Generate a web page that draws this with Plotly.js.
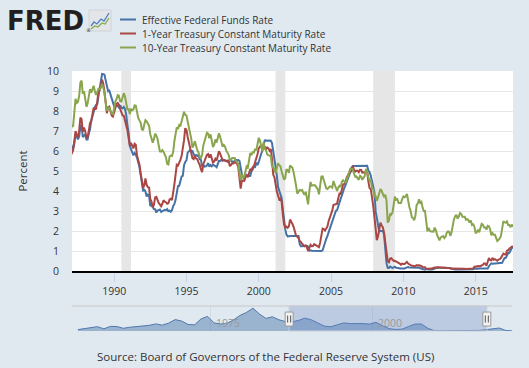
<!DOCTYPE html>
<html><head><meta charset="utf-8">
<script src="https://cdn.plot.ly/plotly-3.0.1.min.js"></script>
<style>html,body{margin:0;padding:0;background:#e1e9f0;}#chart{width:529px;height:368px;}</style>
</head><body><div id="chart"></div>
<script>
// ---------- DATA ----------
const seriesNames = ["Effective Federal Funds Rate", "1-Year Treasury Constant Maturity Rate", "10-Year Treasury Constant Maturity Rate"];
const seriesColors = ["#4572a7", "#aa4643", "#89a54e"];
const firstYear = 1987; // monthly values, Jan 1987 onward
const fedFunds = [
6.43,6.10,6.13,6.37,6.85,6.73,6.58,6.73,7.22,7.29,6.69,6.77,
6.83,6.58,6.58,6.87,7.09,7.51,7.75,8.01,8.19,8.30,8.35,8.76,
9.12,9.36,9.85,9.84,9.81,9.53,9.24,8.99,9.02,8.84,8.55,8.45,
8.23,8.24,8.28,8.26,8.18,8.29,8.15,8.13,8.20,8.11,7.81,7.31,
6.91,6.25,6.12,5.91,5.78,5.90,5.82,5.66,5.45,5.21,4.81,4.43,
4.03,4.06,3.98,3.73,3.82,3.76,3.25,3.30,3.22,3.10,3.09,2.92,
3.02,3.03,3.07,2.96,3.00,3.04,3.06,3.03,3.09,2.99,3.02,2.96,
3.05,3.25,3.34,3.56,4.01,4.25,4.26,4.47,4.73,4.76,5.29,5.45,
5.53,5.92,5.98,6.05,6.01,6.00,5.85,5.74,5.80,5.76,5.80,5.60,
5.56,5.22,5.31,5.22,5.24,5.27,5.40,5.22,5.30,5.24,5.31,5.29,
5.25,5.19,5.39,5.51,5.50,5.56,5.52,5.54,5.54,5.50,5.52,5.50,
5.56,5.51,5.49,5.45,5.49,5.56,5.54,5.55,5.51,5.07,4.83,4.68,
4.63,4.76,4.81,4.74,4.74,4.76,4.99,5.07,5.22,5.20,5.42,5.30,
5.45,5.73,5.85,6.02,6.27,6.53,6.54,6.50,6.52,6.51,6.51,6.40,
5.98,5.49,5.31,4.80,4.21,3.97,3.77,3.65,3.07,2.49,2.09,1.82,
1.73,1.74,1.73,1.75,1.75,1.75,1.73,1.74,1.75,1.75,1.34,1.24,
1.24,1.26,1.25,1.26,1.26,1.22,1.01,1.03,1.01,1.01,1.00,0.98,
1.00,1.01,1.00,1.00,1.00,1.03,1.26,1.43,1.61,1.76,1.93,2.16,
2.28,2.50,2.63,2.79,3.00,3.04,3.26,3.50,3.62,3.78,4.00,4.16,
4.29,4.49,4.59,4.79,4.94,4.99,5.24,5.25,5.25,5.25,5.25,5.24,
5.25,5.26,5.26,5.25,5.25,5.25,5.26,5.02,4.94,4.76,4.49,4.24,
3.94,2.98,2.61,2.28,1.98,2.00,2.01,2.00,1.81,0.97,0.39,0.16,
0.15,0.22,0.18,0.15,0.18,0.21,0.16,0.16,0.15,0.12,0.12,0.12,
0.11,0.13,0.16,0.20,0.20,0.18,0.18,0.19,0.19,0.19,0.19,0.18,
0.17,0.16,0.14,0.10,0.09,0.09,0.07,0.10,0.08,0.07,0.08,0.07,
0.08,0.10,0.13,0.14,0.16,0.16,0.16,0.13,0.14,0.16,0.16,0.16,
0.14,0.15,0.14,0.15,0.11,0.09,0.09,0.08,0.08,0.09,0.08,0.09,
0.07,0.07,0.08,0.09,0.09,0.10,0.09,0.09,0.09,0.09,0.09,0.12,
0.11,0.11,0.11,0.12,0.12,0.13,0.13,0.14,0.14,0.12,0.12,0.24,
0.34,0.38,0.36,0.37,0.37,0.38,0.39,0.40,0.40,0.40,0.41,0.54,
0.65,0.66,0.79,0.90,0.91,1.04,1.15,1.16];
const oneYear = [
5.78,5.96,6.03,6.50,7.00,6.80,6.68,7.03,7.67,7.59,6.96,7.17,
6.99,6.64,6.71,7.01,7.40,7.49,7.75,8.17,8.09,8.11,8.48,8.99,
9.05,9.25,9.57,9.36,8.98,8.44,7.89,8.18,8.22,7.99,7.77,7.72,
7.92,8.11,8.35,8.40,8.32,8.10,7.94,7.78,7.76,7.55,7.31,7.05,
6.64,6.27,6.40,6.24,6.13,6.36,6.31,5.78,5.57,5.33,4.89,4.38,
4.15,4.29,4.63,4.30,4.19,4.17,3.60,3.47,3.18,3.30,3.68,3.71,
3.50,3.39,3.33,3.24,3.36,3.54,3.47,3.44,3.36,3.39,3.58,3.61,
3.54,3.87,4.32,4.82,5.31,5.27,5.48,5.56,5.76,6.11,6.54,7.14,
7.05,6.70,6.43,6.27,6.00,5.64,5.59,5.75,5.62,5.59,5.43,5.31,
5.09,4.94,5.34,5.54,5.64,5.81,5.85,5.67,5.83,5.55,5.42,5.47,
5.61,5.53,5.80,5.99,5.87,5.69,5.54,5.56,5.52,5.46,5.46,5.53,
5.24,5.31,5.39,5.38,5.44,5.41,5.36,5.21,4.71,4.12,4.53,4.52,
4.51,4.70,4.78,4.69,4.85,5.10,5.03,5.20,5.25,5.43,5.55,5.84,
6.12,6.22,6.22,6.15,6.33,6.17,6.08,6.18,6.13,6.01,6.09,5.60,
4.81,4.68,4.30,3.98,3.78,3.58,3.62,3.47,2.82,2.33,2.18,2.22,
2.16,2.23,2.57,2.48,2.35,2.20,1.96,1.76,1.72,1.65,1.49,1.45,
1.36,1.30,1.24,1.27,1.18,1.01,1.12,1.31,1.24,1.25,1.34,1.31,
1.24,1.24,1.19,1.43,1.78,2.12,2.10,2.02,2.12,2.23,2.50,2.67,
2.86,3.03,3.30,3.32,3.33,3.36,3.64,3.87,3.85,4.18,4.33,4.35,
4.45,4.68,4.77,4.90,5.00,5.16,5.22,5.08,4.97,5.01,5.01,4.94,
5.06,5.05,4.92,4.93,4.91,4.96,4.96,4.47,4.14,4.10,3.50,3.26,
2.71,2.05,1.54,1.74,2.06,2.42,2.28,2.18,1.91,1.42,1.07,0.49,
0.44,0.62,0.64,0.55,0.50,0.51,0.48,0.46,0.40,0.37,0.31,0.37,
0.35,0.35,0.40,0.45,0.37,0.32,0.29,0.26,0.26,0.23,0.25,0.29,
0.27,0.29,0.26,0.25,0.19,0.18,0.19,0.11,0.10,0.11,0.11,0.12,
0.12,0.16,0.19,0.18,0.19,0.19,0.19,0.18,0.18,0.18,0.18,0.16,
0.15,0.16,0.15,0.12,0.12,0.14,0.12,0.13,0.12,0.12,0.12,0.13,
0.12,0.12,0.13,0.11,0.10,0.10,0.11,0.11,0.11,0.10,0.13,0.21,
0.20,0.22,0.25,0.23,0.24,0.28,0.30,0.38,0.37,0.26,0.48,0.65,
0.54,0.53,0.66,0.56,0.59,0.55,0.51,0.57,0.59,0.66,0.74,0.87,
0.83,0.82,1.01,1.04,1.12,1.20,1.22,1.23];
const tenYear = [
7.08,7.25,7.25,8.02,8.61,8.40,8.45,8.76,9.42,9.52,8.86,8.99,
8.67,8.21,8.37,8.72,9.09,8.92,9.06,9.26,8.98,8.80,8.96,9.11,
9.09,9.17,9.36,9.18,8.86,8.28,8.02,8.11,8.19,8.01,7.87,7.84,
8.21,8.47,8.59,8.79,8.76,8.48,8.47,8.75,8.89,8.72,8.39,8.08,
8.09,7.85,8.11,8.04,8.07,8.28,8.27,7.90,7.65,7.53,7.42,7.09,
7.03,7.34,7.54,7.48,7.39,7.26,6.84,6.59,6.42,6.59,6.87,6.77,
6.60,6.26,5.98,5.97,6.04,5.96,5.81,5.68,5.36,5.33,5.72,5.77,
5.75,5.97,6.48,6.97,7.18,7.10,7.30,7.24,7.46,7.74,7.96,7.81,
7.78,7.47,7.20,7.06,6.63,6.17,6.28,6.49,6.20,6.04,5.93,5.71,
5.65,5.81,6.27,6.51,6.74,6.91,6.87,6.64,6.83,6.53,6.20,6.30,
6.58,6.42,6.69,6.89,6.71,6.49,6.22,6.30,6.21,6.03,5.88,5.81,
5.54,5.57,5.65,5.64,5.65,5.50,5.46,5.34,4.81,4.53,4.83,4.65,
4.72,5.00,5.23,5.18,5.54,5.90,5.79,5.94,5.92,6.11,6.03,6.28,
6.66,6.52,6.26,5.99,6.44,6.10,6.05,5.83,5.80,5.74,5.72,5.24,
5.16,5.10,4.89,5.14,5.39,5.28,5.24,4.97,4.73,4.57,4.65,5.09,
5.04,4.91,5.28,5.21,5.16,4.93,4.65,4.26,3.87,3.94,4.05,4.03,
4.05,3.90,3.81,3.96,3.57,3.33,3.98,4.45,4.27,4.29,4.30,4.27,
4.15,4.08,3.83,4.35,4.72,4.73,4.50,4.28,4.13,4.10,4.19,4.23,
4.22,4.17,4.50,4.34,4.14,4.00,4.18,4.26,4.20,4.46,4.54,4.47,
4.42,4.57,4.72,4.99,5.11,5.11,5.09,4.88,4.72,4.73,4.60,4.56,
4.76,4.72,4.56,4.69,4.75,5.10,5.00,4.67,4.52,4.53,4.15,4.10,
3.74,3.74,3.51,3.68,3.88,4.10,4.01,3.89,3.69,3.81,3.53,2.42,
2.52,2.87,2.82,2.93,3.29,3.72,3.56,3.59,3.40,3.39,3.40,3.59,
3.73,3.69,3.73,3.85,3.42,3.20,3.01,2.70,2.65,2.54,2.76,3.29,
3.39,3.58,3.41,3.46,3.17,3.00,3.00,2.30,1.98,2.15,2.01,1.98,
1.97,1.97,2.17,2.05,1.80,1.62,1.53,1.68,1.72,1.75,1.65,1.72,
1.91,1.98,1.96,1.76,1.93,2.30,2.58,2.74,2.81,2.62,2.72,2.90,
2.86,2.71,2.72,2.71,2.56,2.60,2.54,2.42,2.53,2.30,2.33,2.21,
1.88,1.98,2.04,1.94,2.20,2.36,2.32,2.17,2.17,2.07,2.26,2.24,
2.09,1.78,1.89,1.81,1.81,1.64,1.50,1.56,1.63,1.76,2.14,2.49,
2.43,2.42,2.48,2.30,2.30,2.19,2.32,2.21];
const tickYears = ["1990","1995","2000","2005","2010","2015"];
const recessionStart = ["1990-07-01","2001-03-01","2007-12-01"];
const recessionEnd   = ["1991-03-01","2001-11-01","2009-06-01"];
// navigator: annual effective federal funds rate
const navYears = [1954,1955,1956,1957,1958,1959,1960,1961,1962,1963,1964,1965,1966,1967,1968,1969,1970,1971,1972,1973,1974,1975,1976,1977,1978,1979,1980,1981,1982,1983,1984,1985,1986,1987,1988,1989,1990,1991,1992,1993,1994,1995,1996,1997,1998,1999,2000,2001,2002,2003,2004,2005,2006,2007,2008,2009,2010,2011,2012,2013,2014,2015,2016,2017,2018,2019,2020,2021];
const navValues = [1.01,1.78,2.73,3.11,1.57,3.31,3.21,1.95,2.71,3.18,3.50,4.07,5.11,4.22,5.66,8.21,7.17,4.67,4.44,8.74,10.51,5.82,5.05,5.54,7.93,11.19,13.36,16.38,12.26,9.09,10.23,8.10,6.81,6.66,7.57,9.22,8.10,5.69,3.52,3.02,4.21,5.83,5.30,5.46,5.35,4.97,6.24,3.88,1.67,1.13,1.35,3.22,4.97,5.02,1.92,0.16,0.18,0.10,0.14,0.11,0.09,0.13,0.40,1.00,1.83,2.16,0.38,0.08];
const navTickYears = ["1975","2000"];
const viewStart = "1987-02-01", viewEnd = "2017-08-01";
const sourceText = "Source: Board of Governors of the Federal Reserve System (US)";

// ---------- BUILD ----------
const pad2 = n => (n < 10 ? "0" : "") + n;
const months = fedFunds.map((_, i) => (firstYear + Math.floor(i / 12)) + "-" + pad2(i % 12 + 1) + "-01");
const W = 529, H = 368, L = 72, R = 16, T = 71, B = 37;
const PW = W - L - R, PH = H - T - B;
const px = x => (x - L) / PW;
const py = y => (H - B - y) / PH;
const mainBottom = py(271);
const navTop = py(306);
const FONT = "Open Sans, sans-serif";

const allSeries = [fedFunds, oneYear, tenYear];
const traces = allSeries.map((vals, k) => ({
  type: "scatter", mode: "lines", x: months, y: vals, name: seriesNames[k],
  line: { color: seriesColors[k], width: 2 }, xaxis: "x", yaxis: "y", hoverinfo: "skip"
}));
traces.push({
  type: "scatter", mode: "lines", x: navYears.map(y => y + "-07-01"), y: navValues,
  fill: "tozeroy", fillcolor: "rgba(69,114,167,0.45)", line: { color: "#4f78ad", width: 1 },
  xaxis: "x2", yaxis: "y2", hoverinfo: "skip", showlegend: false
});

const shapes = [];
shapes.push({ type: "rect", xref: "x", yref: "y domain", x0: viewStart, x1: viewEnd, y0: 0, y1: 1, fillcolor: "#ffffff", line: { width: 0 }, layer: "below" });
recessionStart.forEach((s, i) => shapes.push({ type: "rect", xref: "x", yref: "y domain", x0: s, x1: recessionEnd[i], y0: 0, y1: 1, fillcolor: "#e6e6e6", line: { width: 0 }, layer: "below" }));
// navigator
shapes.push({ type: "rect", xref: "x2", yref: "y2 domain", x0: viewStart, x1: viewEnd, y0: 0, y1: 1, fillcolor: "rgba(102,133,194,0.3)", line: { color: "#c8cfd8", width: 1 }, layer: "above" });
shapes.push({ type: "line", xref: "paper", yref: "paper", x0: 0, x1: px(512), y0: navTop, y1: navTop, line: { color: "#c8c8c8", width: 1 } });
[viewStart, viewEnd].forEach(d => {
  shapes.push({ type: "rect", xref: "x2", yref: "y2", xsizemode: "pixel", ysizemode: "pixel", xanchor: d, yanchor: 8.6, x0: -4, x1: 4, y0: -7, y1: 7, fillcolor: "#f2f2f2", line: { color: "#999999", width: 1 }, layer: "above" });
  [-1.5, 1.5].forEach(o => shapes.push({ type: "line", xref: "x2", yref: "y2", xsizemode: "pixel", ysizemode: "pixel", xanchor: d, yanchor: 8.6, x0: o, x1: o, y0: -3.5, y1: 3.5, line: { color: "#555555", width: 1 }, layer: "above" }));
});
// legend glyphs
seriesNames.forEach((n, k) => shapes.push({ type: "line", xref: "paper", yref: "paper", x0: px(120), x1: px(136), y0: py(19.5 + 14 * k), y1: py(19.5 + 14 * k), line: { color: seriesColors[k], width: 2 } }));
// FRED icon
shapes.push({ type: "rect", xref: "paper", yref: "paper", x0: px(89), x1: px(111), y0: py(31), y1: py(10), fillcolor: "#e3e5e8", line: { color: "#d0d4d8", width: 1 } });
const pth = pts => "M " + pts.map(p => px(p[0]) + "," + py(p[1])).join(" L ");
shapes.push({ type: "path", xref: "paper", yref: "paper", path: pth([[91,26],[94,22],[97,24],[101,19],[104,21],[109,13]]), line: { color: "#4f7fbf", width: 1.3 } });
shapes.push({ type: "path", xref: "paper", yref: "paper", path: pth([[91,29],[95,26],[98,27],[102,23],[105,24],[109,18]]), line: { color: "#7fae4a", width: 1.3 } });

const annotations = [];
seriesNames.forEach((n, k) => annotations.push({ xref: "paper", yref: "paper", x: px(140), y: py(19.5 + 14 * k), xanchor: "left", yanchor: "middle", text: n, showarrow: false, font: { family: FONT, size: 10, color: "#333" } }));
annotations.push({ xref: "paper", yref: "paper", x: px(5), y: py(21), xanchor: "left", yanchor: "middle", text: "FRED", showarrow: false, font: { family: "DejaVu Sans", size: 26, weight: 900, color: "#231f20" } });
annotations.push({ xref: "paper", yref: "paper", x: px(84), y: py(30), xanchor: "left", yanchor: "middle", text: "®", showarrow: false, font: { family: "DejaVu Sans", size: 5, color: "#231f20" } });
annotations.push({ xref: "paper", yref: "paper", x: px(265), y: py(356), xanchor: "center", yanchor: "middle", text: sourceText, showarrow: false, font: { family: FONT, size: 11.5, color: "#333" } });
navTickYears.forEach(y => annotations.push({ xref: "x2", yref: "paper", x: y + "-01-01", y: py(322.5), xanchor: "left", yanchor: "middle", xshift: 3, text: y, showarrow: false, font: { family: FONT, size: 10.5, color: "#9a9a9a" } }));

const layout = {
  width: W, height: H, autosize: false,
  margin: { l: L, r: R, t: T, b: B, pad: 0 },
  paper_bgcolor: "#e1e9f0", plot_bgcolor: "#e1e9f0",
  showlegend: false,
  xaxis: {
    type: "date", domain: [0, 1], anchor: "y", range: [viewStart, viewEnd],
    tickvals: tickYears.map(y => y + "-01-01"), ticktext: tickYears,
    ticks: "outside", ticklen: 9, tickcolor: "#c4d2e4", tickwidth: 1,
    showline: true, linecolor: "#000000", linewidth: 2, showgrid: false, zeroline: false,
    tickfont: { family: FONT, size: 10.5, color: "#333" }, fixedrange: true
  },
  yaxis: {
    domain: [mainBottom, 1], anchor: "x", range: [0, 10], tick0: 0, dtick: 1,
    gridcolor: "#e6e6e6", gridwidth: 1, zeroline: false, showline: false, ticks: "",
    ticklabelstandoff: 12,
    tickfont: { family: FONT, size: 10.5, color: "#333" },
    title: { text: "Percent", font: { family: FONT, size: 11.5, color: "#333" }, standoff: 16 },
    fixedrange: true
  },
  xaxis2: {
    type: "date", domain: [0, 1], anchor: "y2", range: ["1953-08-01", "2021-08-15"],
    tickvals: navTickYears.map(y => y + "-01-01"), showticklabels: false, ticks: "",
    showgrid: true, gridcolor: "#d3dbe4", showline: false, zeroline: false, fixedrange: true
  },
  yaxis2: {
    domain: [0, navTop], anchor: "x2", range: [0, 18], visible: false, fixedrange: true
  },
  shapes: shapes, annotations: annotations
};
Plotly.newPlot("chart", traces, layout, { staticPlot: true, displayModeBar: false });
</script>
</body></html>
